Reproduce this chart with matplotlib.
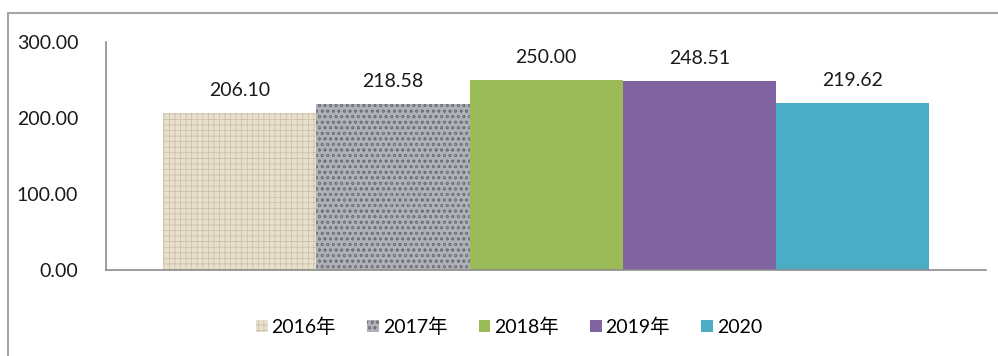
import matplotlib
matplotlib.use("Agg")
import matplotlib.pyplot as plt
from matplotlib.patches import Rectangle, Patch

plt.rcParams["font.family"] = ["Lato", "Noto Sans CJK SC", "DejaVu Sans"]
plt.rcParams["hatch.linewidth"] = 0.5

years = ["2016年", "2017年", "2018年", "2019年", "2020"]
values = [206.10, 218.58, 250.00, 248.51, 219.62]
y_ticks = [0, 100, 200, 300]

faces = ["#e8dfcc", "#b0b0b8", "#9bbb59", "#8064a2", "#4bacc6"]
hatches = ["+++", "ooo", None, None, None]
hatch_cols = ["#c9bda3", "#6f6f78", None, None, None]

fig = plt.figure(figsize=(9.98, 3.56), dpi=100)
ax = fig.add_axes([0.1062, 0.2416, 0.882, 0.6404])

handles = []
for i, (lab, v) in enumerate(zip(years, values)):
    ax.bar(i, v, width=1.0, color=faces[i], linewidth=0,
           hatch=hatches[i], edgecolor=hatch_cols[i] or faces[i])
    ax.annotate(f"{v:.2f}", (i, v), textcoords="offset points", xytext=(0, 10),
                ha="center", va="bottom", fontsize=14, color="#1a1a1a")
    handles.append(Patch(facecolor=faces[i], edgecolor=hatch_cols[i] or faces[i],
                         hatch=hatches[i], linewidth=0, label=lab))

ax.set_xlim(-0.873, 4.873)
ax.set_ylim(0, 300)
ax.set_yticks(y_ticks)
ax.set_yticklabels([f"{t:.2f}" for t in y_ticks], fontsize=14, color="#1a1a1a")
ax.set_xticks([])
ax.tick_params(axis="y", length=0, pad=20)
for s in ["top", "right"]:
    ax.spines[s].set_visible(False)
for s in ["left", "bottom"]:
    ax.spines[s].set_color("#8c8c8c")
    ax.spines[s].set_linewidth(1.2)

fig.legend(handles=handles, loc="center", bbox_to_anchor=(0.51, 0.083), ncol=5,
           frameon=False, fontsize=14, handlelength=0.6, handleheight=0.6,
           handletextpad=0.2, columnspacing=1.6)

# outer frame (cut off at right and bottom)
fig.patches.append(Rectangle((8 / 998, -0.1), 1.2, (356 - 13) / 356 + 0.1,
                             transform=fig.transFigure, fill=False,
                             edgecolor="#a6a6a6", linewidth=1.5))

fig.savefig("out.png", dpi=100)
